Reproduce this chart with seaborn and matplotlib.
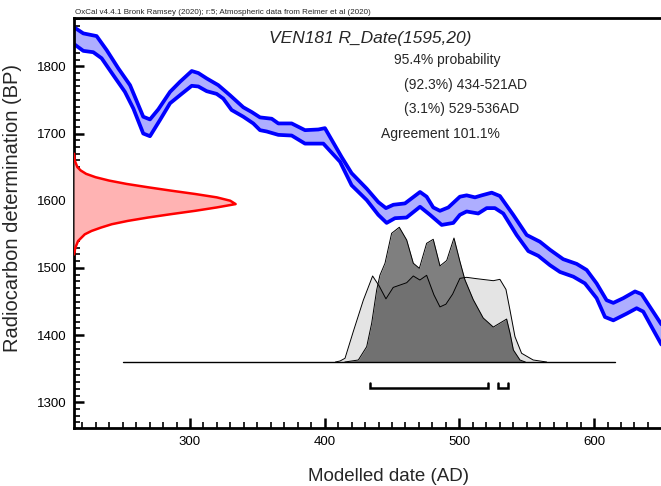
import numpy as np
import matplotlib
matplotlib.use("Agg")
import matplotlib.pyplot as plt
from matplotlib.ticker import MultipleLocator
import seaborn as sns

sns.set_style("ticks")
plt.rcParams['font.family'] = ['Liberation Sans', 'DejaVu Sans']

# calibration curve (IntCal20 band)
cal_up_x = [214, 220.8, 230.7, 238.2, 246.8, 255.5, 265.3, 270.3, 276.5, 285.2,
            292.6, 301.3, 306.2, 312.4, 321, 329.7, 339.6, 345.8, 352, 360.7,
            365.6, 375.5, 385.4, 395.3, 400.2, 412.6, 420, 431.2, 439.8, 445.5,
            451, 459.6, 470.8, 475.7, 480.6, 485.6, 491.8, 500.4, 505.4, 511.6,
            516.6, 524, 530.1, 540, 550, 559.8, 567.3, 577.1, 587.1, 594.5,
            601.9, 609.3, 614.3, 621.7, 630.4, 635.3, 641.5, 650]
cal_up_y = [1858, 1849, 1845, 1824, 1797, 1772, 1725, 1721, 1736, 1762,
            1777, 1793, 1790, 1782, 1772, 1757, 1739, 1732, 1724, 1722,
            1715, 1715, 1705, 1706, 1708, 1665, 1641, 1618, 1598, 1589,
            1594, 1596, 1613, 1606, 1590, 1585, 1590, 1606, 1608, 1605,
            1608, 1612, 1607, 1579, 1549, 1539, 1527, 1513, 1506, 1497,
            1477, 1452, 1448, 1455, 1465, 1461, 1442, 1416]
cal_lo_x = [214, 220.8, 228.2, 234.4, 243, 251.7, 258, 265.3, 270.3, 277.7,
            285.2, 293.8, 301.3, 306.2, 312.4, 319.8, 324.7, 330.9, 339.6, 347,
            352, 357, 365.6, 375.5, 385.4, 399, 411.4, 420, 431.2, 439.8,
            446, 452.2, 460.8, 470.8, 478.2, 486.9, 495.5, 500.4, 505.4, 514,
            520.3, 526.4, 532.6, 542.5, 551.2, 558.6, 567.3, 574.7, 584.6, 593.2,
            601.9, 608.1, 614.3, 624.2, 631.6, 636.5, 642.8, 650]
cal_lo_y = [1833, 1823, 1821, 1812, 1787, 1762, 1737, 1700, 1696, 1720,
            1745, 1759, 1771, 1770, 1763, 1759, 1752, 1735, 1725, 1715,
            1705, 1703, 1698, 1697, 1685, 1685, 1658, 1623, 1601, 1579,
            1567, 1574, 1575, 1591, 1579, 1564, 1567, 1579, 1584, 1581,
            1589, 1589, 1581, 1549, 1525, 1518, 1504, 1494, 1487, 1477,
            1455, 1427, 1422, 1432, 1440, 1435, 1412, 1386]

# radiocarbon measurement R_Date(1595,20) drawn on the y axis
red_bp = [1520, 1525, 1530, 1540, 1550, 1555, 1560, 1565, 1570, 1575, 1580, 1585,
          1590, 1595, 1600, 1605, 1610, 1615, 1620, 1625, 1630, 1635, 1640,
          1645, 1650, 1660, 1670]
red_w = [0, 0.5, 1, 3, 8, 13, 20, 28, 40, 55, 72, 90,
         106, 120, 116, 106, 90, 72, 55, 39, 26, 16, 9,
         5, 2.5, 0.5, 0]

# calibrated (likelihood) and modelled (posterior) distributions
dist_base = 1360
dist_line = [250.6, 615.5]
like_x = [408, 411.4, 415.1, 421.2, 428.7, 435.6, 440.5, 445.5, 450.9, 460.9,
          465.8, 470.7, 475.7, 481.1, 485.6, 490, 495, 500.4, 505.4, 512.8,
          525.2, 530.1, 534.6, 537.6, 541.3, 546.2, 554.8, 564.8]
like_h = [0, 1.5, 5.5, 45, 92, 128, 113, 94, 111, 118,
          128, 122, 129, 100, 82, 86, 101, 124.5, 126, 124,
          121, 123, 108, 77, 37.6, 13, 3, 0]
post_x = [415, 425, 431.2, 434.9, 438.6, 441, 444.8, 449.7, 455.4, 460.9,
          465.8, 470.3, 475.7, 480.6, 485.6, 490.6, 496, 500.4, 504.1, 510.3,
          517.7, 525.2, 535.1, 537.6, 540.1, 545, 549]
post_h = [0, 3, 22.8, 57.6, 107, 129, 147, 191.5, 200.5, 181.5,
          147, 139.4, 176.6, 182.6, 143, 151, 184.5, 149.7, 122.5, 92.8,
          65.5, 52, 63.9, 43, 17.9, 3, 0]

# 95.4% ranges
ranges = [(434, 521), (529, 536)]

X_LEFT, X_RIGHT = 213.9, 649.7
Y_BOT, Y_TOP = 1261.8, 1871.9

fig = plt.figure(figsize=(6.61, 4.86), dpi=100)
ax = fig.add_axes([74 / 661, 58 / 486, 587 / 661, 410 / 486])

# calibration band
band_x = cal_up_x + cal_lo_x[::-1]
band_y = cal_up_y + cal_lo_y[::-1]
ax.fill(band_x, band_y, color='#aeaeff', lw=0, zorder=1)
for xs, ys in [(cal_up_x, cal_up_y), (cal_lo_x, cal_lo_y)]:
    sns.lineplot(x=xs, y=ys, color='#0000ff', lw=2.7, sort=False,
                 estimator=None, ax=ax, zorder=2,
                 solid_joinstyle='round', solid_capstyle='round')

# red measurement
red_x = [X_LEFT + w for w in red_w]
ax.fill_betweenx(red_bp, X_LEFT, red_x, color='#ffb3b3', lw=0, zorder=3)
ax.plot(red_x, red_bp, color='#ff0000', lw=1.8, zorder=4)

# grey distributions
like_y = [dist_base + h for h in like_h]
post_y = [dist_base + h for h in post_h]
ax.fill_between(like_x, dist_base, like_y, color='#e4e4e4', lw=0, zorder=3)
ax.fill_between(post_x, dist_base, post_y, color='black', alpha=0.5, lw=0, zorder=4)
ax.plot(like_x, like_y, color='black', lw=0.7, zorder=5)
ax.plot(post_x, post_y, color='black', lw=0.7, zorder=5)
ax.plot(dist_line, [dist_base, dist_base], color='black', lw=1.0, zorder=5)

# range brackets
for a, b in ranges:
    ax.plot([a, a, b, b], [1329, 1321, 1321, 1329], color='black', lw=1.8,
            solid_joinstyle='miter', zorder=5)

ax.set_xlim(X_LEFT, X_RIGHT)
ax.set_ylim(Y_BOT, Y_TOP)
ax.xaxis.set_major_locator(MultipleLocator(100))
ax.xaxis.set_minor_locator(MultipleLocator(10))
ax.yaxis.set_major_locator(MultipleLocator(100))
ax.yaxis.set_minor_locator(MultipleLocator(10))
ax.tick_params(which='major', direction='in', length=7, width=1.8,
               labelsize=9.5, pad=5.5, colors='black')
ax.tick_params(which='minor', direction='in', length=4.2, width=1.2, color='black')
ax.tick_params(top=False, right=False, bottom=True, left=True, which='both')
for side in ['left', 'bottom', 'top']:
    ax.spines[side].set_linewidth(2)
    ax.spines[side].set_color('black')
ax.spines['right'].set_visible(False)

ax.set_xlabel('Modelled date (AD)', fontsize=13.5)
ax.set_ylabel('Radiocarbon determination (BP)', fontsize=14.5)
ax.xaxis.set_label_coords((388 - 74) / 587, -(468 - 428) / 410)
ax.yaxis.set_label_coords(-(74 - 22) / 587, (428 - 208) / 410)

def fx(px):
    return px / 661

def fy(py):
    return 1 - py / 486

fig.text(fx(75), fy(13), 'OxCal v4.4.1 Bronk Ramsey (2020); r:5; Atmospheric data from Reimer et al (2020)',
         fontsize=5.8, va='center', ha='left')
fig.text(fx(370), fy(38), 'VEN181 R_Date(1595,20)', fontsize=12.5, style='italic',
         ha='center', va='center')
fig.text(fx(394), fy(60), '95.4% probability', fontsize=10, va='center')
fig.text(fx(404), fy(85), '(92.3%) 434-521AD', fontsize=10, va='center')
fig.text(fx(404), fy(109), '(3.1%) 529-536AD', fontsize=10, va='center')
fig.text(fx(381), fy(134), 'Agreement 101.1%', fontsize=10, va='center')

fig.savefig('out.png', dpi=100)
